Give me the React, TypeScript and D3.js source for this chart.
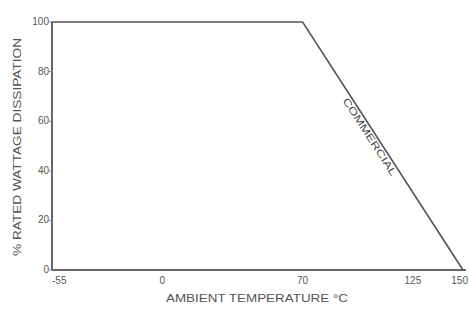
import React, { useEffect, useRef } from 'react';
import * as d3 from 'd3';

// derating curve
const temps = [-55, 70, 150];
const ratedPct = [100, 100, 0];

const xTicks = [-55, 0, 70, 125, 150];
const yTicks = [0, 20, 40, 60, 80, 100];

const curveLabel = 'COMMERCIAL';
const xTitle = 'AMBIENT TEMPERATURE °C';
const yTitle = '% RATED WATTAGE DISSIPATION';

const W = 469;
const H = 313;

export default function App() {
  const ref = useRef<SVGSVGElement>(null);

  useEffect(() => {
    const svg = d3.select(ref.current);
    svg.selectAll('*').remove();

    const margin = { top: 22, left: 52, right: 6, bottom: 43 };
    const x = d3.scaleLinear().domain([-55, 150]).range([margin.left, W - margin.right]);
    const y = d3.scaleLinear().domain([0, 100]).range([H - margin.bottom, margin.top]);
    const ink = '#555';
    const font = 'Liberation Sans, Arial, sans-serif';

    // axes
    svg.append('line')
      .attr('x1', x(-55)).attr('x2', W - 3)
      .attr('y1', y(0)).attr('y2', y(0))
      .attr('stroke', '#666').attr('stroke-width', 2);
    svg.append('line')
      .attr('x1', x(-55)).attr('x2', x(-55))
      .attr('y1', y(0)).attr('y2', y(100))
      .attr('stroke', '#666').attr('stroke-width', 2);

    // y ticks
    const yg = svg.append('g');
    yg.selectAll('line').data(yTicks).enter().append('line')
      .attr('x1', x(-55) - 3).attr('x2', x(-55))
      .attr('y1', d => y(d)).attr('y2', d => y(d))
      .attr('stroke', '#888').attr('stroke-width', 1);
    yg.selectAll('text').data(yTicks).enter().append('text')
      .attr('x', x(-55) - 3)
      .attr('y', d => y(d) + 3)
      .attr('text-anchor', 'end')
      .attr('font-family', font).attr('font-size', 10)
      .attr('fill', '#555')
      .text(d => d);

    // x ticks (first and last kept inside the frame)
    const last = xTicks[xTicks.length - 1];
    svg.append('g').selectAll('text').data(xTicks).enter().append('text')
      .attr('x', d => (d === last ? W - 1 : x(d)))
      .attr('y', y(0) + 14)
      .attr('text-anchor', d => (d === -55 ? 'start' : d === last ? 'end' : 'middle'))
      .attr('font-family', font).attr('font-size', 10)
      .attr('fill', '#555')
      .text(d => d);

    // curve
    const pts = temps.map((t, i) => [t, ratedPct[i]] as [number, number]);
    const line = d3.line<[number, number]>().x(d => x(d[0])).y(d => y(d[1]));
    svg.append('path')
      .attr('d', line(pts))
      .attr('fill', 'none')
      .attr('stroke', ink)
      .attr('stroke-width', 1.6);

    // curve label along the slope
    const x0 = x(temps[1]), y0 = y(ratedPct[1]);
    const x1 = x(temps[2]), y1 = y(ratedPct[2]);
    const ang = Math.atan2(y1 - y0, x1 - x0) * 180 / Math.PI;
    const f = 0.45;
    const cx = x0 + (x1 - x0) * f - 8;
    const cy = y0 + (y1 - y0) * f + 5;
    svg.append('text')
      .attr('transform', `translate(${cx},${cy}) rotate(${ang})`)
      .attr('text-anchor', 'middle')
      .attr('font-family', font).attr('font-size', 10)
      .attr('textLength', 90).attr('lengthAdjust', 'spacingAndGlyphs')
      .attr('fill', '#444')
      .text(curveLabel);

    // titles
    svg.append('text')
      .attr('x', 257).attr('y', 302)
      .attr('text-anchor', 'middle')
      .attr('font-family', font).attr('font-size', 10.5)
      .attr('textLength', 182).attr('lengthAdjust', 'spacingAndGlyphs')
      .attr('fill', '#555')
      .text(xTitle);

    svg.append('text')
      .attr('transform', `translate(21,147) rotate(-90)`)
      .attr('text-anchor', 'middle')
      .attr('font-family', font).attr('font-size', 10.5)
      .attr('textLength', 218).attr('lengthAdjust', 'spacingAndGlyphs')
      .attr('fill', '#555')
      .text(yTitle);
  }, []);

  return (
    <svg ref={ref} width={W} height={H}
      style={{ position: 'absolute', left: 0, top: 0, background: '#fff' }} />
  );
}
